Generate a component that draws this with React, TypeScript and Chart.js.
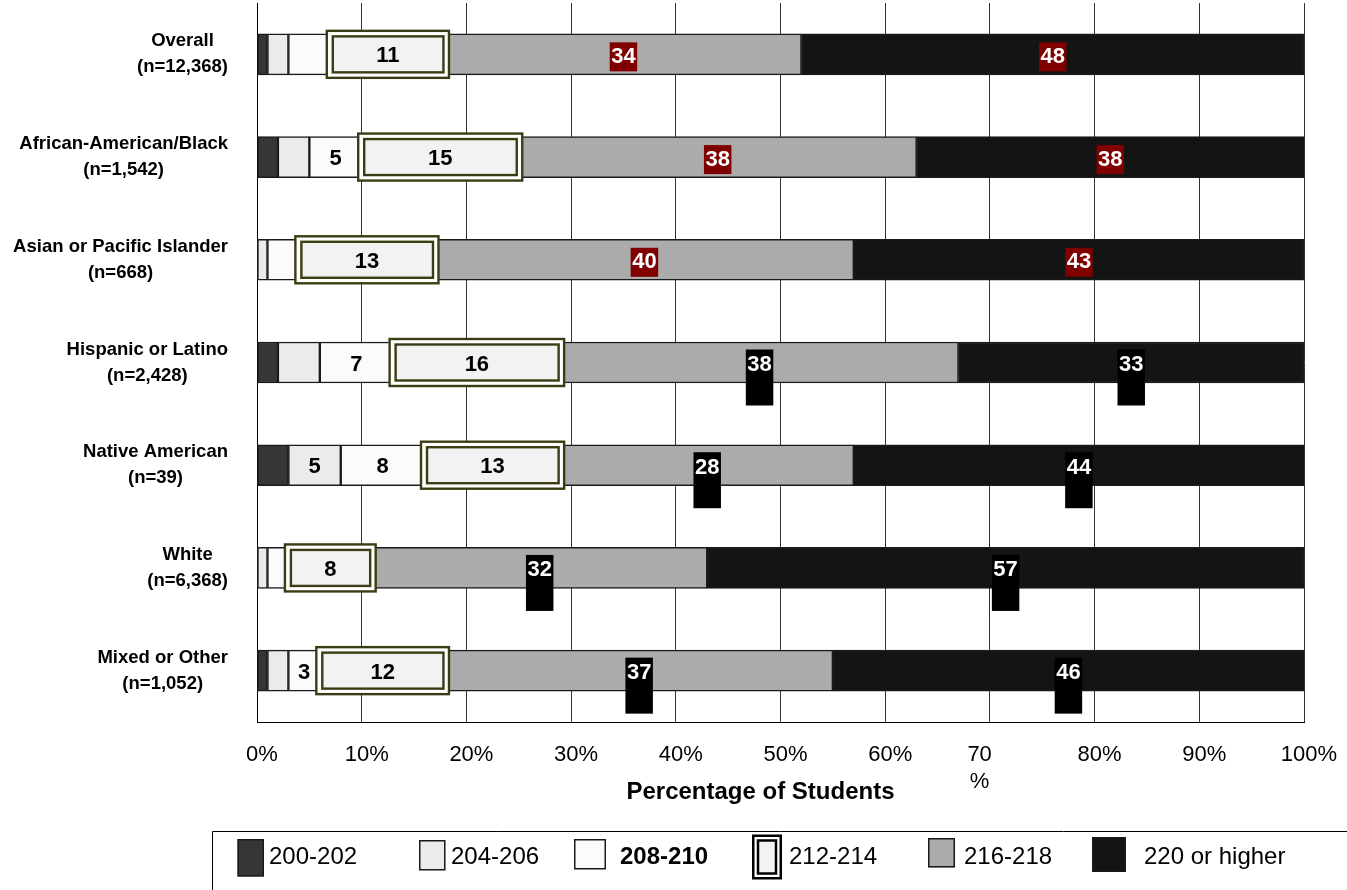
import { useEffect, useRef } from "react";
import { Chart, registerables } from "chart.js";

Chart.register(...registerables);

// Student groups and their sizes
const groups = [
  "Overall",
  "African-American/Black",
  "Asian or Pacific Islander",
  "Hispanic or Latino",
  "Native American",
  "White",
  "Mixed or Other",
];
const groupSizes = ["(n=12,368)", "(n=1,542)", "(n=668)", "(n=2,428)", "(n=39)", "(n=6,368)", "(n=1,052)"];

// Score bands
const bandNames = ["200-202", "204-206", "208-210", "212-214", "216-218", "220 or higher"];

// Percentage of students in each band, per group
const band200 = [1, 2, 0, 2, 3, 0, 1];
const band204 = [2, 3, 1, 4, 5, 1, 2];
const band208 = [4, 5, 3, 7, 8, 2, 3];
const band212 = [11, 15, 13, 16, 13, 8, 12];
const band216 = [34, 38, 40, 38, 28, 32, 37];
const band220 = [48, 38, 43, 33, 44, 57, 46];

// Which of the narrow bands carry a printed value
const band200Shown = [false, false, false, false, false, false, false];
const band204Shown = [false, false, false, false, true, false, false];
const band208Shown = [false, true, false, true, true, false, true];
const band212Shown = [true, true, true, true, true, true, true];

// Axis ticks
const xTickValues = [0, 10, 20, 30, 40, 50, 60, 70, 80, 90, 100];
const xTickLabels: (string | string[])[] = [
  "0%", "10%", "20%", "30%", "40%", "50%", "60%", ["70     ", "%     "], "80%", "90%", "100%",
];
const xTitle = "Percentage of Students";

const FONT = "'Liberation Sans', Arial, Helvetica, sans-serif";
const fills = ["#363636", "#ebebeb", "#fbfbfb", "#f2f2f2", "#ababab", "#141414"];
const OLIVE = "#3c3c14";

const bandValues = [band200, band204, band208, band212, band216, band220];
const shownFlags = [band200Shown, band204Shown, band208Shown, band212Shown];

// Double-framed box for the 212-214 band
const framedBandPlugin = {
  id: "framedBand",
  afterDatasetsDraw(chart: any) {
    const ctx = chart.ctx;
    const meta = chart.getDatasetMeta(3);
    ctx.save();
    meta.data.forEach((el: any) => {
      const { x, base, y, height } = el.getProps(["x", "base", "y", "height"], true);
      const top = y - height / 2;
      const bot = y + height / 2;
      // outer frame
      ctx.fillStyle = "#ffffff";
      ctx.fillRect(base - 3.5, top - 3, x - base + 7, bot - top + 6);
      ctx.strokeStyle = OLIVE;
      ctx.lineWidth = 2.4;
      ctx.strokeRect(base - 3.5, top - 3, x - base + 7, bot - top + 6);
      // inner frame
      ctx.fillStyle = fills[3];
      ctx.fillRect(base + 2.5, top + 2.5, x - base - 4.5, bot - top - 5);
      ctx.strokeRect(base + 2.5, top + 2.5, x - base - 4.5, bot - top - 5);
    });
    ctx.restore();
  },
};

// Group names, value labels, axis title and legend
const annotationsPlugin = {
  id: "annotations",
  afterDraw(chart: any) {
    const ctx = chart.ctx;
    const area = chart.chartArea;
    const yScale = chart.scales.y;
    ctx.save();

    // group labels, each block right-aligned with centred lines
    ctx.font = `bold 18.5px ${FONT}`;
    ctx.fillStyle = "#000";
    ctx.textBaseline = "middle";
    ctx.textAlign = "center";
    groups.forEach((g, i) => {
      const yc = yScale.getPixelForValue(i);
      const w = Math.max(ctx.measureText(g).width, ctx.measureText(groupSizes[i]).width);
      const cx = area.left - 29 - w / 2;
      ctx.fillText(g, cx, yc - 13);
      ctx.fillText(groupSizes[i], cx, yc + 13);
    });

    // values inside the narrow bands
    ctx.font = `bold 22px ${FONT}`;
    for (let d = 0; d < 4; d++) {
      const meta = chart.getDatasetMeta(d);
      meta.data.forEach((el: any, i: number) => {
        if (!shownFlags[d][i]) return;
        const { x, base, y } = el.getProps(["x", "base", "y"], true);
        ctx.fillStyle = "#000";
        ctx.fillText(String(bandValues[d][i]), (x + base) / 2, y + 2);
      });
    }

    // values in the two top bands, on a coloured callout
    for (let d = 4; d < 6; d++) {
      const meta = chart.getDatasetMeta(d);
      meta.data.forEach((el: any, i: number) => {
        const { x, base, y } = el.getProps(["x", "base", "y"], true);
        const text = String(bandValues[d][i]);
        const mid = (Math.min(base, area.right) + Math.min(x, area.right)) / 2;
        const tw = ctx.measureText(text).width + 3;
        if (i < 3) {
          ctx.fillStyle = "#800000";
          ctx.fillRect(mid - tw / 2, y - 12, tw, 29);
        } else {
          ctx.fillStyle = "#000000";
          ctx.fillRect(mid - tw / 2, y - 13, tw, 56);
        }
        ctx.fillStyle = "#ffffff";
        ctx.fillText(text, mid, y + 2.5);
      });
    }

    // axis title
    ctx.font = `bold 24px ${FONT}`;
    ctx.fillStyle = "#000";
    ctx.fillText(xTitle, (area.left + area.right) / 2 - 20, 792);

    // legend frame
    ctx.strokeStyle = "#000";
    ctx.lineWidth = 1;
    ctx.beginPath();
    ctx.moveTo(212.5, 890);
    ctx.lineTo(212.5, 831.5);
    ctx.lineTo(1347, 831.5);
    ctx.stroke();

    // legend entries
    const swatches = [
      { x: 237.5, y: 839, w: 26.5, h: 37.5, tx: 269 },
      { x: 419, y: 840, w: 26.5, h: 30.5, tx: 451 },
      { x: 574, y: 839, w: 32, h: 30.5, tx: 620 },
      { x: 752, y: 834.5, w: 30, h: 45, tx: 789 },
      { x: 928, y: 838, w: 27, h: 29.5, tx: 964 },
      { x: 1092, y: 837, w: 34, h: 35, tx: 1144 },
    ];
    ctx.textAlign = "left";
    swatches.forEach((s, k) => {
      if (k === 3) {
        ctx.fillStyle = "#ffffff";
        ctx.fillRect(s.x, s.y, s.w, s.h);
        ctx.lineWidth = 2.5;
        ctx.strokeStyle = "#000";
        ctx.strokeRect(s.x + 1.25, s.y + 1.25, s.w - 2.5, s.h - 2.5);
        ctx.fillStyle = fills[3];
        ctx.fillRect(s.x + 6, s.y + 6, s.w - 12, s.h - 12);
        ctx.strokeRect(s.x + 6, s.y + 6, s.w - 12, s.h - 12);
      } else {
        ctx.fillStyle = fills[k];
        ctx.fillRect(s.x, s.y, s.w, s.h);
        ctx.lineWidth = 1.5;
        ctx.strokeStyle = "#1a1a1a";
        ctx.strokeRect(s.x + 0.75, s.y + 0.75, s.w - 1.5, s.h - 1.5);
      }
      ctx.font = `${k === 2 ? "bold " : ""}24px ${FONT}`;
      ctx.fillStyle = "#000";
      ctx.fillText(bandNames[k], s.tx, 857);
    });

    ctx.restore();
  },
};

export default function App() {
  const canvasRef = useRef<HTMLCanvasElement | null>(null);

  useEffect(() => {
    document.body.style.margin = "0";
    const canvas = canvasRef.current;
    if (!canvas) return;

    const datasets = bandValues.map((vals, k) => ({
      label: bandNames[k],
      data: vals,
      backgroundColor: fills[k],
      borderColor: "#1a1a1a",
      borderWidth: (c: any) => (c.raw === 0 ? 0 : 1.5),
      borderSkipped: false,
      barThickness: 41,
      categoryPercentage: 1,
      stack: "bands",
    }));

    const chart = new Chart(canvas, {
      type: "bar",
      data: { labels: groups, datasets },
      options: {
        indexAxis: "y",
        responsive: false,
        animation: false,
        events: [],
        layout: { padding: { top: 3, right: 43, bottom: 0, left: 0 } },
        plugins: {
          legend: { display: false },
          tooltip: { enabled: false },
        },
        scales: {
          y: {
            type: "category",
            stacked: true,
            ticks: { display: false },
            grid: { display: false },
            border: { display: true, color: "#000", width: 1 },
            afterFit: (s: any) => {
              s.width = 257;
            },
          },
          x: {
            type: "linear",
            stacked: true,
            min: 0,
            max: 100,
            z: 1,
            afterBuildTicks: (s: any) => {
              s.ticks = xTickValues.map((v) => ({ value: v }));
            },
            ticks: {
              callback: (_v: any, idx: number) => xTickLabels[idx],
              font: { family: FONT, size: 22 },
              color: "#000",
              padding: 20,
              labelOffset: 5,
              maxRotation: 0,
              autoSkip: false,
            },
            grid: { color: "#333", lineWidth: 1, drawTicks: false },
            border: { display: true, color: "#000", width: 1 },
            afterFit: (s: any) => {
              s.height = 168;
              s.paddingLeft = 0;
              s.paddingRight = 0;
            },
          },
        },
      },
      plugins: [framedBandPlugin, annotationsPlugin],
    } as any);

    return () => chart.destroy();
  }, []);

  return (
    <div style={{ width: 1347, height: 890, position: "relative" }}>
      <canvas ref={canvasRef} width={1347} height={890} style={{ display: "block" }} />
    </div>
  );
}
